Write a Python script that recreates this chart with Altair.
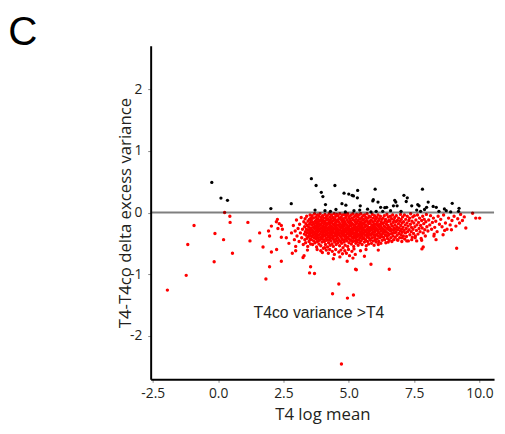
import altair as alt
import pandas as pd

# ---- data (x = T4 log mean, y = delta excess variance) ----
black_points = [
    (-0.24, 0.49), (0.11, 0.235), (0.36, 0.20), (2.02, 0.065), (2.80, 0.145),
    (3.57, 0.55), (3.75, 0.44), (4.47, 0.44), (3.95, 0.33), (4.01, 0.26),
    (4.82, 0.315), (5.00, 0.30), (5.13, 0.28), (5.18, 0.27), (5.34, 0.36),
    (5.33, 0.24), (4.11, 0.13), (4.74, 0.145), (4.89, 0.12), (5.44, 0.11),
    (5.92, 0.19), (3.71, 0.04), (4.09, 0.03), (4.51, 0.05), (4.87, 0.01),
    (5.42, 0.04), (5.72, 0.055), (5.85, 0.01), (6.01, 0.38), (7.82, 0.38),
    (5.94, 0.21), (6.12, 0.17), (6.22, 0.085), (6.45, 0.085), (6.76, 0.20),
    (6.80, 0.17), (6.71, 0.11), (6.85, 0.11), (7.11, 0.28), (7.24, 0.24),
    (7.20, 0.18), (7.41, 0.11), (7.64, 0.13), (7.69, 0.11), (8.04, 0.17),
    (7.98, 0.085), (7.90, 0.05), (8.23, 0.10), (8.35, 0.085), (8.66, 0.06),
    (8.73, 0.03), (8.96, 0.15), (9.22, 0.07), (9.20, 0.02), (6.38, 0.08),
    (6.30, 0.02), (7.00, 0.02), (7.60, 0.04), (7.75, 0.02), (6.60, 0.03),
    (8.45, 0.02), (8.90, 0.01), (6.05, 0.02), (4.30, 0.02), (5.20, 0.03),
]

red_outliers = [
    (0.25, 0.0), (0.45, -0.06), (0.46, -0.16), (1.14, -0.16), (-0.92, -0.21),
    (-0.12, -0.34), (1.59, -0.33), (0.21, -0.44), (1.22, -0.46), (-1.16, -0.52),
    (1.72, -0.56), (0.55, -0.66), (-0.15, -0.80), (-1.22, -1.02), (-1.94, -1.26),
    (1.83, -1.08), (1.97, -0.88), (2.04, -0.64), (2.24, -0.60), (2.42, -0.79),
    (1.93, -0.30), (1.97, -0.38), (2.04, -0.22), (2.27, -0.11), (2.23, -0.15),
    (2.34, -0.18), (2.42, -0.21), (2.46, -0.27), (2.29, -0.26), (2.42, -0.40),
    (2.61, -0.41), (2.71, -0.50), (2.81, -0.33), (2.84, -0.66), (2.97, -0.62),
    (2.97, -0.55), (3.29, -0.70), (3.42, -0.61), (3.25, -0.73), (3.54, -0.88),
    (3.50, -0.98), (3.69, -0.99), (3.79, -0.60), (4.94, -0.79), (5.26, -0.92),
    (5.29, -0.93), (5.60, -0.71), (4.62, -1.16), (4.38, -1.32), (4.95, -1.39),
    (5.18, -1.34), (5.85, -0.84), (6.55, -0.92), (4.72, -2.46), (9.13, -0.58),
    (9.74, -0.01), (9.86, -0.09), (10.01, -0.09), (9.48, -0.25), (9.35, -0.13),
    (9.24, -0.17), (8.93, -0.28), (8.67, -0.29), (8.61, -0.36), (8.26, -0.38),
    (8.34, -0.44), (8.27, -0.35), (7.85, -0.56), (7.80, -0.59), (7.79, -0.45),
    (7.54, -0.41), (7.60, -0.46), (6.13, -0.52), (6.13, -0.61), (6.51, -0.48),
    (7.22, -0.46), (7.41, -0.44), (6.85, -0.44), (7.04, -0.41),
]

red_cluster = [
    (2.88, -0.21), (2.92, -0.44), (2.95, -0.30), (3.0, -0.12), (3.02, -0.38), (3.06, -0.26),
    (3.1, -0.47), (3.12, -0.19), (3.15, -0.33), (3.18, -0.08), (3.2, -0.41), (3.23, -0.27),
    (3.26, -0.52), (3.28, -0.15), (3.3, -0.35),
    (3.31, -0.23), (3.32, -0.44), (3.33, -0.10), (3.34, -0.31), (3.35, -0.49), (3.36, -0.18),
    (3.37, -0.37), (3.38, -0.27), (3.39, -0.06), (3.4, -0.42), (3.41, -0.21), (3.42, -0.33),
    (3.43, -0.55), (3.44, -0.14), (3.45, -0.29), (3.46, -0.39), (3.47, -0.24), (3.48, -0.47),
    (3.49, -0.11), (3.5, -0.35), (3.5, -0.19), (3.51, -0.28), (3.52, -0.43), (3.52, -0.04),
    (3.53, -0.32), (3.54, -0.16), (3.54, -0.51), (3.55, -0.25), (3.55, -0.38), (3.55, -0.09),
    (3.56, -0.27), (3.57, -0.12), (3.57, -0.44), (3.58, -0.33), (3.59, -0.20), (3.6, -0.05),
    (3.6, -0.39), (3.61, -0.29), (3.62, -0.52), (3.63, -0.16), (3.63, -0.36), (3.64, -0.24),
    (3.65, -0.09), (3.66, -0.46), (3.66, -0.31), (3.67, -0.19), (3.68, -0.41), (3.69, -0.02),
    (3.69, -0.26), (3.7, -0.34), (3.71, -0.14), (3.71, -0.49), (3.72, -0.22), (3.73, -0.38),
    (3.74, -0.07), (3.74, -0.30), (3.75, -0.43), (3.75, -0.17), (3.76, -0.25), (3.77, -0.56),
    (3.77, -0.11), (3.78, -0.35), (3.78, -0.21), (3.79, -0.40), (3.79, -0.28), (3.8, -0.04),
    (3.8, -0.47), (3.8, -0.15),
    (3.81, -0.32), (3.82, -0.23), (3.82, -0.10), (3.83, -0.42), (3.84, -0.18), (3.84, -0.37),
    (3.85, -0.27), (3.86, -0.51), (3.86, -0.06), (3.87, -0.30), (3.88, -0.14), (3.88, -0.45),
    (3.89, -0.21), (3.9, -0.35), (3.9, -0.02), (3.91, -0.26), (3.92, -0.40), (3.92, -0.12),
    (3.93, -0.54), (3.94, -0.31), (3.94, -0.19), (3.95, -0.08), (3.96, -0.43), (3.96, -0.25),
    (3.97, -0.36), (3.98, -0.16), (3.98, -0.48), (3.99, -0.29), (4.0, -0.05), (4.0, -0.22),
    (4.01, -0.39), (4.01, -0.13), (4.02, -0.33), (4.03, -0.58), (4.03, -0.24), (4.04, -0.44),
    (4.04, -0.09), (4.05, -0.28), (4.05, -0.18), (4.05, -0.37), (3.93, -0.62), (3.99, -0.65),
    (4.06, -0.31), (4.07, -0.14), (4.07, -0.47), (4.08, -0.23), (4.09, -0.03), (4.09, -0.38),
    (4.1, -0.27), (4.11, -0.52), (4.11, -0.17), (4.12, -0.34), (4.13, -0.08), (4.13, -0.42),
    (4.14, -0.21), (4.15, -0.30), (4.15, -0.12), (4.16, -0.45), (4.17, -0.25), (4.17, -0.36),
    (4.18, -0.05), (4.19, -0.19), (4.19, -0.56), (4.2, -0.40), (4.21, -0.28), (4.21, -0.10),
    (4.22, -0.33), (4.23, -0.16), (4.23, -0.49), (4.24, -0.24), (4.25, -0.38), (4.25, -0.02),
    (4.26, -0.29), (4.26, -0.44), (4.27, -0.13), (4.28, -0.35), (4.28, -0.20), (4.29, -0.53),
    (4.29, -0.07), (4.3, -0.26), (4.3, -0.41), (4.3, -0.17), (4.14, -0.61), (4.22, -0.66),
    (4.27, -0.60), (4.08, -0.57),
    (4.31, -0.32), (4.32, -0.11), (4.32, -0.46), (4.33, -0.22), (4.34, -0.37), (4.34, -0.04),
    (4.35, -0.28), (4.36, -0.51), (4.36, -0.15), (4.37, -0.34), (4.38, -0.24), (4.38, -0.42),
    (4.39, -0.08), (4.4, -0.19), (4.4, -0.30), (4.41, -0.55), (4.42, -0.39), (4.42, -0.13),
    (4.43, -0.26), (4.44, -0.45), (4.44, -0.02), (4.45, -0.33), (4.46, -0.21), (4.46, -0.48),
    (4.47, -0.10), (4.48, -0.36), (4.48, -0.27), (4.49, -0.17), (4.5, -0.43), (4.5, -0.06),
    (4.51, -0.31), (4.52, -0.23), (4.52, -0.52), (4.53, -0.14), (4.53, -0.38), (4.54, -0.29),
    (4.54, -0.03), (4.55, -0.46), (4.55, -0.20), (4.55, -0.34), (4.37, -0.63), (4.45, -0.68),
    (4.5, -0.60), (4.41, -0.75),
    (4.56, -0.26), (4.57, -0.12), (4.57, -0.41), (4.58, -0.31), (4.59, -0.05), (4.59, -0.49),
    (4.6, -0.20), (4.61, -0.36), (4.61, -0.15), (4.62, -0.28), (4.63, -0.44), (4.63, -0.09),
    (4.64, -0.33), (4.65, -0.23), (4.65, -0.54), (4.66, -0.02), (4.67, -0.38), (4.67, -0.18),
    (4.68, -0.29), (4.69, -0.47), (4.69, -0.11), (4.7, -0.25), (4.71, -0.40), (4.71, -0.07),
    (4.72, -0.34), (4.73, -0.21), (4.73, -0.50), (4.74, -0.14), (4.75, -0.30), (4.75, -0.43),
    (4.76, -0.04), (4.77, -0.24), (4.77, -0.37), (4.78, -0.17), (4.78, -0.57), (4.79, -0.32),
    (4.79, -0.10), (4.8, -0.45), (4.8, -0.27), (4.8, -0.19), (4.62, -0.64), (4.7, -0.61),
    (4.76, -0.67), (4.66, -0.72),
    (4.81, -0.35), (4.82, -0.13), (4.82, -0.48), (4.83, -0.22), (4.84, -0.03), (4.84, -0.39),
    (4.85, -0.28), (4.86, -0.16), (4.86, -0.53), (4.87, -0.31), (4.88, -0.08), (4.88, -0.43),
    (4.89, -0.25), (4.9, -0.19), (4.9, -0.36), (4.91, -0.05), (4.92, -0.46), (4.92, -0.29),
    (4.93, -0.12), (4.94, -0.40), (4.94, -0.21), (4.95, -0.33), (4.96, -0.55), (4.96, -0.02),
    (4.97, -0.26), (4.98, -0.15), (4.98, -0.42), (4.99, -0.35), (5.0, -0.09), (5.0, -0.23),
    (5.01, -0.49), (5.01, -0.30), (5.02, -0.17), (5.03, -0.38), (5.03, -0.06), (5.04, -0.27),
    (5.04, -0.44), (5.05, -0.20), (5.05, -0.33), (5.05, -0.11), (4.85, -0.62), (4.91, -0.66),
    (4.99, -0.60), (5.03, -0.70),
    (5.06, -0.28), (5.07, -0.14), (5.07, -0.45), (5.08, -0.36), (5.09, -0.04), (5.09, -0.22),
    (5.1, -0.51), (5.11, -0.31), (5.11, -0.17), (5.12, -0.40), (5.13, -0.09), (5.13, -0.26),
    (5.14, -0.35), (5.15, -0.47), (5.15, -0.19), (5.16, -0.02), (5.17, -0.29), (5.17, -0.42),
    (5.18, -0.12), (5.19, -0.24), (5.19, -0.55), (5.2, -0.33), (5.21, -0.07), (5.21, -0.38),
    (5.22, -0.20), (5.23, -0.46), (5.23, -0.27), (5.24, -0.15), (5.25, -0.34), (5.25, -0.05),
    (5.26, -0.41), (5.27, -0.23), (5.27, -0.50), (5.28, -0.11), (5.28, -0.30), (5.29, -0.37),
    (5.29, -0.18), (5.3, -0.03), (5.3, -0.44), (5.3, -0.26), (5.12, -0.63), (5.2, -0.59),
    (5.25, -0.68), (5.16, -0.74),
    (5.31, -0.32), (5.32, -0.16), (5.32, -0.48), (5.33, -0.24), (5.34, -0.07), (5.34, -0.39),
    (5.35, -0.29), (5.36, -0.13), (5.36, -0.53), (5.37, -0.35), (5.38, -0.21), (5.38, -0.44),
    (5.39, -0.04), (5.4, -0.27), (5.4, -0.37), (5.41, -0.18), (5.42, -0.49), (5.42, -0.10),
    (5.43, -0.31), (5.44, -0.41), (5.44, -0.23), (5.45, -0.15), (5.46, -0.34), (5.46, -0.02),
    (5.47, -0.46), (5.48, -0.26), (5.48, -0.19), (5.49, -0.38), (5.5, -0.08), (5.5, -0.30),
    (5.51, -0.52), (5.51, -0.22), (5.52, -0.36), (5.53, -0.12), (5.53, -0.43), (5.54, -0.28),
    (5.54, -0.17), (5.55, -0.05), (5.55, -0.33), (5.45, -0.62),
    (5.56, -0.25), (5.57, -0.41), (5.57, -0.11), (5.58, -0.33), (5.59, -0.19), (5.6, -0.48),
    (5.6, -0.04), (5.61, -0.29), (5.62, -0.37), (5.62, -0.15), (5.63, -0.23), (5.64, -0.44),
    (5.65, -0.08), (5.65, -0.31), (5.66, -0.20), (5.67, -0.54), (5.67, -0.36), (5.68, -0.13),
    (5.69, -0.27), (5.7, -0.40), (5.7, -0.02), (5.71, -0.22), (5.72, -0.34), (5.72, -0.47),
    (5.73, -0.16), (5.74, -0.29), (5.74, -0.09), (5.75, -0.38), (5.76, -0.24), (5.76, -0.51),
    (5.77, -0.18), (5.77, -0.32), (5.78, -0.06), (5.79, -0.42), (5.79, -0.26), (5.8, -0.14),
    (5.8, -0.35), (5.66, -0.60),
    (5.81, -0.30), (5.82, -0.17), (5.83, -0.45), (5.83, -0.07), (5.84, -0.24), (5.85, -0.37),
    (5.86, -0.12), (5.87, -0.28), (5.87, -0.50), (5.88, -0.20), (5.89, -0.34), (5.9, -0.03),
    (5.9, -0.41), (5.91, -0.25), (5.92, -0.15), (5.93, -0.31), (5.94, -0.46), (5.94, -0.09),
    (5.95, -0.22), (5.96, -0.36), (5.97, -0.18), (5.97, -0.53), (5.98, -0.27), (5.99, -0.05),
    (5.99, -0.40), (6.0, -0.32), (6.01, -0.13), (6.01, -0.23), (6.02, -0.44), (6.03, -0.29),
    (6.03, -0.10), (6.04, -0.37), (6.05, -0.19), (6.05, -0.48),
    (6.06, -0.26), (6.07, -0.08), (6.08, -0.35), (6.09, -0.16), (6.09, -0.43), (6.1, -0.28),
    (6.11, -0.21), (6.12, -0.04), (6.13, -0.38), (6.13, -0.31), (6.14, -0.13), (6.15, -0.47),
    (6.16, -0.24), (6.17, -0.33), (6.17, -0.10), (6.18, -0.19), (6.19, -0.41), (6.2, -0.27),
    (6.21, -0.06), (6.22, -0.36), (6.22, -0.22), (6.23, -0.50), (6.24, -0.15), (6.25, -0.30),
    (6.26, -0.39), (6.27, -0.11), (6.27, -0.25), (6.28, -0.45), (6.29, -0.18), (6.3, -0.34),
    (6.31, -0.09), (6.32, -0.27), (6.33, -0.40), (6.33, -0.17), (6.34, -0.32), (6.35, -0.22),
    (6.36, -0.05), (6.37, -0.44), (6.38, -0.29), (6.39, -0.14), (6.4, -0.36), (6.4, -0.24),
    (6.41, -0.11), (6.42, -0.49), (6.43, -0.31), (6.44, -0.19), (6.45, -0.38), (6.46, -0.03),
    (6.47, -0.26), (6.48, -0.42), (6.48, -0.15), (6.49, -0.33), (6.5, -0.21), (6.51, -0.07),
    (6.52, -0.37), (6.53, -0.28), (6.54, -0.12), (6.55, -0.45),
    (6.56, -0.24), (6.57, -0.35), (6.58, -0.14), (6.59, -0.06), (6.6, -0.30), (6.61, -0.41),
    (6.62, -0.19), (6.63, -0.27), (6.64, -0.10), (6.65, -0.47), (6.66, -0.34), (6.67, -0.22),
    (6.68, -0.04), (6.69, -0.38), (6.7, -0.16), (6.71, -0.29), (6.72, -0.44), (6.73, -0.12),
    (6.74, -0.25), (6.75, -0.33), (6.76, -0.08), (6.77, -0.20), (6.78, -0.40), (6.79, -0.27),
    (6.8, -0.15),
    (6.81, -0.32), (6.82, -0.05), (6.84, -0.23), (6.85, -0.37), (6.86, -0.13), (6.87, -0.28),
    (6.88, -0.45), (6.9, -0.18), (6.91, -0.09), (6.92, -0.34), (6.93, -0.25), (6.95, -0.41),
    (6.96, -0.14), (6.97, -0.30), (6.98, -0.03), (6.99, -0.21), (7.0, -0.36), (7.01, -0.11),
    (7.02, -0.27), (7.03, -0.47), (7.04, -0.17), (7.05, -0.32),
    (7.06, -0.07), (7.08, -0.24), (7.09, -0.38), (7.1, -0.15), (7.12, -0.29), (7.13, -0.04),
    (7.14, -0.43), (7.16, -0.20), (7.17, -0.33), (7.18, -0.11), (7.2, -0.26), (7.21, -0.39),
    (7.23, -0.17), (7.24, -0.06), (7.25, -0.31), (7.27, -0.22), (7.28, -0.46), (7.3, -0.13),
    (7.31, -0.28), (7.33, -0.09), (7.34, -0.36), (7.36, -0.19), (7.37, -0.02), (7.39, -0.31),
    (7.4, -0.24), (7.42, -0.14), (7.43, -0.40), (7.45, -0.07), (7.46, -0.27), (7.48, -0.34),
    (7.49, -0.17), (7.51, -0.05), (7.53, -0.23), (7.55, -0.38),
    (7.57, -0.12), (7.59, -0.29), (7.61, -0.20), (7.63, -0.04), (7.65, -0.35), (7.67, -0.16),
    (7.69, -0.26), (7.71, -0.09), (7.73, -0.31), (7.75, -0.21), (7.77, -0.42), (7.79, -0.13),
    (7.81, -0.25), (7.83, -0.06), (7.85, -0.33), (7.87, -0.18), (7.89, -0.11), (7.91, -0.28),
    (7.93, -0.38), (7.95, -0.15), (7.97, -0.03), (7.99, -0.23),
    (8.03, -0.30), (8.06, -0.12), (8.1, -0.20), (8.13, -0.05), (8.17, -0.27), (8.2, -0.16),
    (8.24, -0.09), (8.29, -0.24), (8.33, -0.14), (8.38, -0.31), (8.42, -0.06), (8.47, -0.19),
    (8.52, -0.11), (8.57, -0.23), (8.63, -0.04), (8.7, -0.17), (8.76, -0.27), (8.82, -0.09),
    (8.88, -0.20), (8.95, -0.13),
    (9.03, -0.06), (9.1, -0.22), (9.17, -0.10), (9.28, -0.03), (9.42, -0.07),
]

x_ticks = [-2.5, 0.0, 2.5, 5.0, 7.5, 10.0]
y_ticks = [-2, -1, 0, 1, 2]
x_domain = [-2.58, 10.56]
y_domain = [-2.71, 2.71]

panel_label = "C"
annotation = "T4co variance >T4"
annotation_pos = (3.86, -1.64)
x_title = "T4 log mean"
y_title = "T4-T4co delta excess variance"

# ---- build tables ----
rows = [{"x": x, "y": y, "grp": "red"} for x, y in red_outliers + red_cluster]
rows += [{"x": x, "y": y, "grp": "black"} for x, y in black_points]
df = pd.DataFrame(rows)

W, H = 349, 339
FONT = "Open Sans"

xscale = alt.Scale(domain=x_domain, nice=False, zero=False)
yscale = alt.Scale(domain=y_domain, nice=False, zero=False)

xaxis = alt.Axis(
    values=x_ticks, title=x_title, grid=False,
    labelExpr="datum.value < 0 ? '-' + format(-datum.value, '.1f') : format(datum.value, '.1f')",
    domainColor="#000000", domainWidth=2, tickColor="#888888", tickSize=3,
    labelFont=FONT, labelFontSize=14, labelColor="#231f20", labelPadding=4,
    titleFont=FONT, titleFontSize=17, titleFontWeight="normal", titleColor="#231f20",
    titlePadding=7,
)
yaxis = alt.Axis(
    values=y_ticks, title=y_title, grid=False,
    labelExpr="datum.value < 0 ? '-' + format(-datum.value, 'd') : format(datum.value, 'd')",
    domainColor="#000000", domainWidth=2, tickColor="#888888", tickSize=3,
    labelFont=FONT, labelFontSize=14, labelColor="#231f20", labelPadding=6,
    titleFont=FONT, titleFontSize=17, titleFontWeight="normal", titleColor="#231f20",
    titlePadding=-5,
)

base = alt.Chart(df)

red = base.transform_filter(alt.datum.grp == "red").mark_circle(
    size=12, color="#ff0000", opacity=1
).encode(
    x=alt.X("x:Q", scale=xscale, axis=xaxis),
    y=alt.Y("y:Q", scale=yscale, axis=yaxis),
)

black = base.transform_filter(alt.datum.grp == "black").mark_circle(
    size=11, color="#000000", opacity=1
).encode(
    x=alt.X("x:Q", scale=xscale),
    y=alt.Y("y:Q", scale=yscale),
)

zero_rule = alt.Chart(pd.DataFrame({"y": [0]})).mark_rule(
    color="#000000", opacity=0.5, strokeWidth=2
).encode(
    y=alt.Y("y:Q", scale=yscale),
    x=alt.value(0),
    x2=alt.value(W),
)

note = alt.Chart(pd.DataFrame({"x": [annotation_pos[0]], "y": [annotation_pos[1]], "t": [annotation]})).mark_text(
    font="Liberation Sans", fontSize=16, color="#231f20", align="center", baseline="middle"
).encode(
    x=alt.X("x:Q", scale=xscale),
    y=alt.Y("y:Q", scale=yscale),
    text="t:N",
)

label_c = alt.Chart(pd.DataFrame({"t": [panel_label]})).mark_text(
    font="Liberation Sans", fontSize=41, color="#000000", align="center", baseline="alphabetic"
).encode(
    x=alt.value(-130),
    y=alt.value(-1),
    text="t:N",
)

chart = alt.layer(red, black, zero_rule, note, label_c).properties(
    width=W, height=H,
    autosize=alt.AutoSizeParams(type="none"),
    padding={"left": 145, "top": 35, "right": 3, "bottom": 44},
    background="#ffffff",
).configure_view(strokeWidth=0)

chart.save("out.html", embed_options={"renderer": "svg", "actions": False})
